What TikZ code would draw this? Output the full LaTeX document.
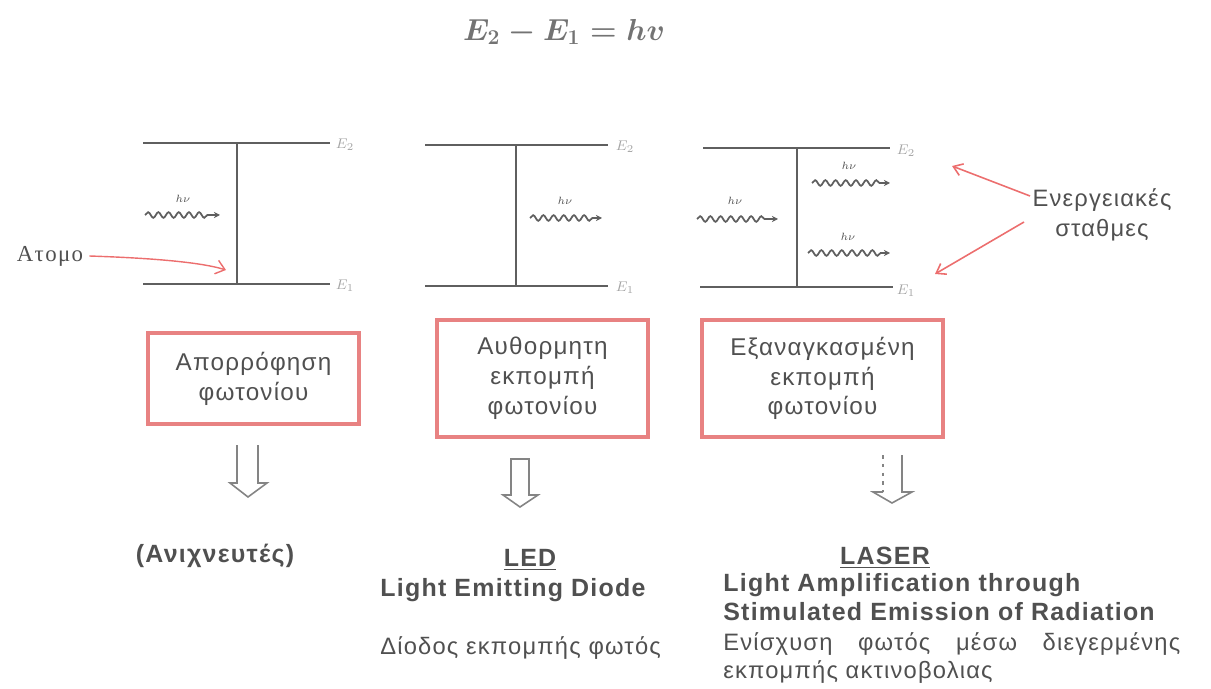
\documentclass[tikz,border=0pt]{standalone}
\usepackage{amsmath}
\usepackage{fontspec}
\setmainfont{Liberation Sans}[LetterSpace=5]
\newfontfamily\atomfont{Liberation Serif}[LetterSpace=6]
\usepackage{xcolor}
\definecolor{lvgray}{RGB}{95,95,95}
\definecolor{txgray}{RGB}{80,80,80}
\definecolor{lbgray}{RGB}{165,165,165}
\definecolor{boxred}{RGB}{232,130,130}
\definecolor{arred}{RGB}{236,110,110}
\usetikzlibrary{arrows.meta, positioning, decorations.pathmorphing, calc}

\tikzset{
  level/.style={lvgray, line width=1.6pt},
  trans/.style={lvgray, line width=1.2pt},
  photon/.style={lvgray, line width=1pt, decorate,
    decoration={snake, amplitude=1.6pt, segment length=5.8pt, post length=5pt},
    -{Stealth[length=3.5pt,width=3.5pt]}},
  hvlabel/.style={font=\fontsize{6.5}{6.5}\selectfont, txgray},
  elabel/.style={font=\fontsize{8}{8}\selectfont, lbgray},
  procbox/.style={draw=boxred, line width=2.2pt, text=txgray,
    font=\fontsize{13.8}{17}\selectfont, align=center, inner sep=0pt},
  redarrow/.style={arred, line width=0.9pt, -{Straight Barb[length=5pt,width=7pt]}},
  hollow/.style={lbgray!80!black, line width=0.9pt, line join=miter},
  boldtxt/.style={font=\fontsize{14.2}{17}\selectfont\bfseries, txgray, anchor=base west, inner sep=0pt},
  plaintxt/.style={font=\fontsize{13.5}{16}\selectfont, txgray, anchor=base west, inner sep=0pt}
}

\begin{document}
\begin{tikzpicture}[x=0.02cm, y=-0.02cm]
  \useasboundingbox (0,0) rectangle (1211,689);

  % Formula
  \node[txgray!80!white, font=\fontsize{18}{21}\selectfont] (eq) at (564,32)
    {$\boldsymbol{E_2 - E_1 = hv}$};

  % --- Absorption ---
  \draw[level] (143,143) -- (330,143);
  \draw[level] (143,284) -- (330,284);
  \draw[trans] (237,143) -- (237,284);
  \node[elabel] (a2) at (345,145) {$E_2$};
  \node[elabel] (a1) at (345,286) {$E_1$};
  \draw[photon] (145,215) -- (220,215);
  \node[hvlabel] (ahv) at (183,199) {$h\nu$};
  \node[txgray, font=\fontsize{13}{13}\selectfont\atomfont] (atom) at (50,256) {Ατομο};
  \coordinate (atomtip) at (226,270);
  \draw[arred, line width=0.8pt, -{Straight Barb[length=5pt,width=8pt]}]
    (atom.east) .. controls (150,258) and (200,262) .. (atomtip);

  % --- Spontaneous emission ---
  \draw[level] (425,145) -- (608,145);
  \draw[level] (425,286) -- (608,286);
  \draw[trans] (516,145) -- (516,286);
  \node[elabel] (b2) at (625,147) {$E_2$};
  \node[elabel] (b1) at (625,288) {$E_1$};
  \draw[photon] (530,218) -- (602,218);
  \node[hvlabel] (bhv) at (565,201) {$h\nu$};

  % --- Stimulated emission ---
  \draw[level] (703,148) -- (890,148);
  \draw[level] (700,287) -- (893,287);
  \draw[trans] (797,148) -- (797,287);
  \node[elabel] (c2) at (906,151) {$E_2$};
  \node[elabel] (c1) at (906,291) {$E_1$};
  \draw[photon] (697,219) -- (778,219);
  \node[hvlabel] (chv) at (735,201) {$h\nu$};
  \draw[photon] (812,183) -- (890,183);
  \node[hvlabel] (chvt) at (849,166) {$h\nu$};
  \draw[photon] (808,253) -- (890,253);
  \node[hvlabel] (chvb) at (848,237) {$h\nu$};

  % Energy levels label
  \node[txgray, font=\fontsize{13.5}{17}\selectfont, align=center] (lev) at (1102,215)
    {Ενεργειακές\\σταθμες};
  \coordinate (levup) at (952,166);
  \coordinate (levdn) at (935,274);
  \draw[redarrow] (1030,196) -- (levup);
  \draw[redarrow] (1024,222) -- (levdn);

  % Process boxes
  \node[procbox, minimum width=4.22cm, minimum height=1.82cm] (absorb) at (253.5,378.5)
    {Απορρόφηση\\φωτονίου};
  \node[procbox, minimum width=4.22cm, minimum height=2.34cm] (spont) at (542.5,378.5)
    {Αυθορμητη\\εκπομπή\\φωτονίου};
  \node[procbox, minimum width=4.82cm, minimum height=2.34cm] (stim) at (822.5,378.5)
    {Εξαναγκασμένη\\εκπομπή\\φωτονίου};

  % Hollow down arrows
  \draw[hollow] (237,445) -- (237,483) -- (230,483) -- (248,497) -- (267,483)
    -- (258,483) -- (258,445);
  \draw[hollow] (511,459) -- (511,495) -- (503,495) -- (520,507) -- (538,495)
    -- (529,495) -- (529,459) -- cycle;
  \draw[hollow, dash pattern=on 2pt off 3pt] (883,455) -- (883,492);
  \draw[hollow] (883,492) -- (873,492) -- (892,503) -- (912,492) -- (902,492) -- (902,455);

  % Applications
  \node[font=\fontsize{14.2}{17}\selectfont\bfseries, txgray] (det) at (215,556) {(Ανιχνευτές)};

  \node[font=\fontsize{14.2}{17}\selectfont\bfseries, txgray] (led) at (530,560) {\underline{LED}};
  \node[boldtxt] (ledeng) at (380,596) {Light Emitting Diode};
  \node[plaintxt] (ledgr) at (380,654) {Δίοδος εκπομπής φωτός};

  \node[font=\fontsize{14.2}{17}\selectfont\bfseries, txgray] (laser) at (885,558) {\underline{LASER}};
  \node[boldtxt] (lasereng1) at (723,591) {Light Amplification through};
  \node[boldtxt] (lasereng2) at (723,620) {Stimulated Emission of Radiation};
  \node[plaintxt] (lasergr1) at (723,650)
    {\makebox[9.14cm][s]{Ενίσχυση\hfill φωτός\hfill μέσω\hfill διεγερμένης}};
  \node[plaintxt] (lasergr2) at (723,678) {εκπομπής ακτινοβολιας};
\end{tikzpicture}
\end{document}
